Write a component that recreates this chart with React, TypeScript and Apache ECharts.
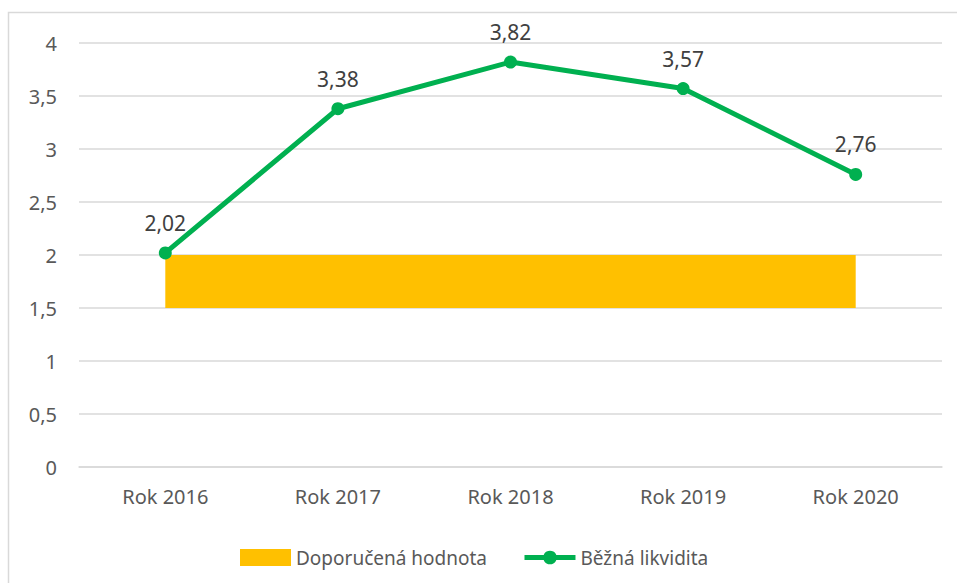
import React, { useEffect, useRef } from "react";
import * as echarts from "echarts";

const categories = ["Rok 2016", "Rok 2017", "Rok 2018", "Rok 2019", "Rok 2020"];
const liquidity = [2.02, 3.38, 3.82, 3.57, 2.76];
const bandBase = [1.5, 1.5, 1.5, 1.5, 1.5];
const bandHeight = [0.5, 0.5, 0.5, 0.5, 0.5];
const bandName = "Doporučená hodnota";
const lineName = "Běžná likvidita";

const fmt = (v: number) => String(v).replace(".", ",");
const FONT = "Noto Sans";

export default function App() {
  const ref = useRef<HTMLDivElement>(null);
  useEffect(() => {
    if (!ref.current) return;
    const chart = echarts.init(ref.current, undefined, { renderer: "svg" });
    chart.setOption({
      animation: false,
      backgroundColor: "#ffffff",
      textStyle: { fontFamily: FONT },
      graphic: [
        {
          type: "rect",
          shape: { x: 8.5, y: 12.5, width: 1000, height: 1000 },
          style: { fill: "none", stroke: "#d9d9d9", lineWidth: 1.5 },
          silent: true,
          z: -1,
        },
      ],
      grid: { left: 79, right: 15, top: 43, bottom: 116, containLabel: false },
      legend: {
        left: 235,
        top: 543,
        itemWidth: 51,
        itemHeight: 17,
        itemGap: 35,
        textStyle: { color: "#595959", fontSize: 19, fontFamily: FONT },
        data: [
          { name: bandName, icon: "rect" },
          { name: lineName, lineStyle: { width: 5 } },
        ],
      },
      xAxis: {
        type: "category",
        data: categories,
        boundaryGap: true,
        axisLine: { lineStyle: { color: "#d9d9d9", width: 1.5 } },
        axisTick: { show: false },
        axisLabel: { color: "#595959", fontSize: 20, margin: 19, fontFamily: FONT },
      },
      yAxis: {
        type: "value",
        min: 0,
        max: 4,
        interval: 0.5,
        axisLine: { show: false },
        axisTick: { show: false },
        splitLine: { lineStyle: { color: "#d9d9d9", width: 1.5 } },
        axisLabel: {
          color: "#595959",
          fontSize: 20,
          margin: 22,
          fontFamily: FONT,
          formatter: (v: number) => fmt(v),
        },
      },
      series: [
        {
          name: "base",
          type: "line",
          stack: "band",
          data: bandBase,
          showSymbol: false,
          symbol: "none",
          lineStyle: { width: 0, opacity: 0 },
          silent: true,
          z: 1,
        },
        {
          name: bandName,
          type: "line",
          stack: "band",
          data: bandHeight,
          showSymbol: false,
          symbol: "none",
          itemStyle: { color: "#ffc000" },
          lineStyle: { width: 0, opacity: 0 },
          areaStyle: { color: "#ffc000", opacity: 1 },
          silent: true,
          z: 1,
        },
        {
          name: lineName,
          type: "line",
          data: liquidity,
          symbol: "circle",
          symbolSize: 13,
          itemStyle: { color: "#00b050" },
          lineStyle: { color: "#00b050", width: 5 },
          label: {
            show: true,
            position: "top",
            distance: 13,
            color: "#404040",
            fontSize: 21,
            fontFamily: FONT,
            formatter: (p: any) => fmt(p.value),
          },
          z: 3,
        },
      ],
    });
    return () => chart.dispose();
  }, []);
  return (
    <div
      ref={ref}
      style={{ position: "fixed", left: 0, top: 0, width: 957, height: 583 }}
    />
  );
}
